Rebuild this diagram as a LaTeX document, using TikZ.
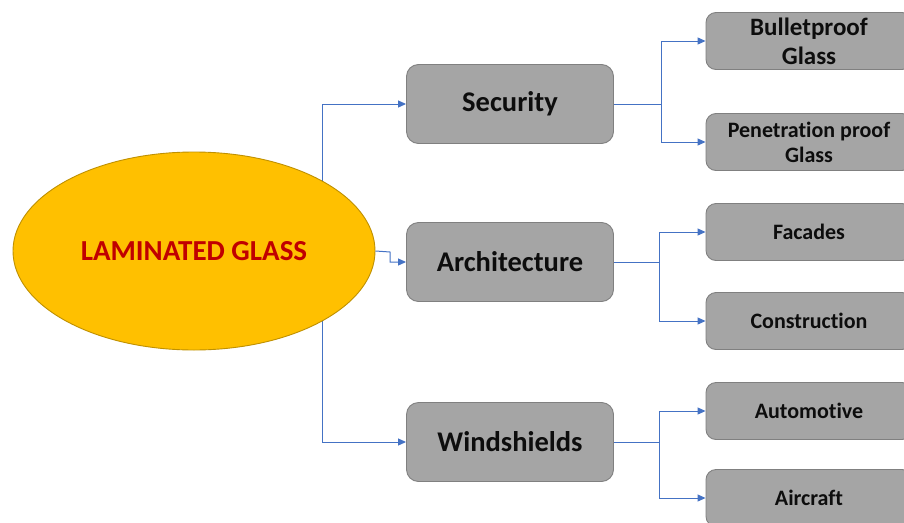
\documentclass[tikz,border=0pt]{standalone}
\usepackage{fontspec}
\setmainfont{Carlito}[Ligatures=NoCommon]
\usetikzlibrary{backgrounds,arrows.meta,shapes.geometric}
\definecolor{boxfill}{HTML}{A5A5A5}
\definecolor{boxline}{HTML}{808080}
\definecolor{ellfill}{HTML}{FFC000}
\definecolor{ellline}{HTML}{BF9000}
\definecolor{titlered}{HTML}{C00000}
\definecolor{connblue}{HTML}{4472C4}
\definecolor{txt}{HTML}{0D0D0D}
\tikzset{
  mainbox/.style={draw=boxline, fill=boxfill, line width=0.9pt, rounded corners=12pt,
    minimum width=207pt, minimum height=79pt, inner sep=0pt, text=txt,
    font=\fontsize{28.5}{32}\selectfont\bfseries},
  subbox/.style={draw=boxline, fill=boxfill, line width=0.9pt, rounded corners=10pt,
    minimum width=206pt, minimum height=57pt, inner sep=0pt, text=txt, align=center,
    font=\fontsize{22}{25}\selectfont\bfseries},
  conn/.style={draw=connblue, line width=1pt},
  arr/.style={conn, -{Triangle[length=8pt,width=7pt]}},
}
\begin{document}
\begin{tikzpicture}[x=1pt,y=-1pt]
\useasboundingbox (0,0) rectangle (904,522);
\clip (0,0) rectangle (904,522);
\node[ellipse, draw=ellline, fill=ellfill, line width=0.9pt, minimum width=362pt,
  minimum height=198pt, inner sep=0pt, text=titlered,
  font=\fontsize{29}{32}\selectfont\bfseries] (ell) at (194,251) {LAMINATED GLASS};
\node[mainbox] (sec) at (510,104) {Security};
\node[mainbox] (arc) at (510,262) {Architecture};
\node[mainbox] (win) at (510,442) {Windshields};
\node[subbox, font=\fontsize{25}{29}\selectfont\bfseries] (bp) at (809,41) {Bulletproof\\Glass};
\node[subbox] (pp) at (809,142) {Penetration proof\\Glass};
\node[subbox] (fac) at (809,232) {Facades};
\node[subbox] (con) at (809,321) {Construction};
\node[subbox] (aut) at (809,411) {Automotive};
\node[subbox] (air) at (809,498) {Aircraft};
\coordinate (trunk) at (322,251);
\coordinate (jog) at (390,252);
\coordinate (b1) at (661,104);
\coordinate (b2) at (659,262);
\coordinate (b3) at (659,442);
\begin{scope}[on background layer]
\draw[arr] (ell.center) -| (trunk |- sec.west) -- (sec.west);
\draw[arr] (ell.center) -| (trunk |- win.west) -- (win.west);
\end{scope}
\draw[arr] (ell.east) -- (jog) |- (arc.west);
\draw[arr] (sec.east) -- (b1) |- (bp.west);
\draw[arr] (b1) |- (pp.west);
\draw[arr] (arc.east) -- (b2) |- (fac.west);
\draw[arr] (b2) |- (con.west);
\draw[arr] (win.east) -- (b3) |- (aut.west);
\draw[arr] (b3) |- (air.west);
\end{tikzpicture}
\end{document}
